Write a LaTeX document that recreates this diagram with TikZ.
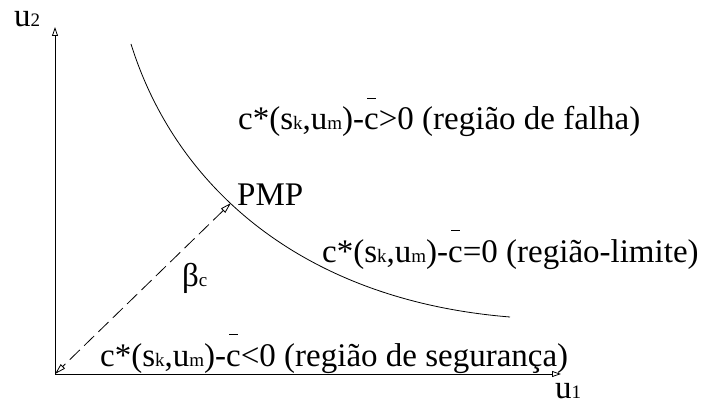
\documentclass[tikz,border=0pt]{standalone}
\usepackage{fontspec}
\setmainfont{Liberation Serif}
\usetikzlibrary{arrows.meta}
\newcommand\subs[1]{{\fontsize{19}{19}\selectfont #1}}
\newcommand\cbar{\makebox[0pt][l]{\hspace{0.09em}\raisebox{0.95em}{\rule{0.28em}{0.03em}}}c}
\tikzset{
  lbl/.style={inner sep=0pt, anchor=base west, font=\fontsize{33}{38}\selectfont},
  axis/.style={line width=0.8pt, -{Triangle[open, length=9pt, width=6pt]}},
  thin/.style={line width=0.8pt},
  beta/.style={line width=0.8pt, dash pattern=on 14pt off 6pt, {Triangle[open, length=11pt, width=6pt]}-{Triangle[open, length=11pt, width=6pt]}}
}
\begin{document}
\begin{tikzpicture}[x=1pt,y=-1pt]
\useasboundingbox (0,0) rectangle (704,401);
\coordinate (O) at (55,374);
\coordinate (Y) at (55,27);
\coordinate (X) at (561,374);
\coordinate (P) at (231,203);
\coordinate (C0) at (131,44);
\coordinate (C1) at (510,317);
\draw[axis] (O) -- (Y);
\draw[axis] (O) -- (X);
\draw[thin] (C0) .. controls (175,185) and (300,300) .. (C1);
\draw[beta] (P) -- (O);
\node[lbl] (u2) at (14,27) {u\subs{2}};
\node[lbl] (u1) at (555,398) {u\subs{1}};
\node[lbl] (pmp) at (237,205) {PMP};
\node[lbl] (bc) at (182,286) {β\subs{c}};
\node[lbl] (t1) at (238,130) {c*(s\subs{k},u\subs{m})-\cbar>0 (região de falha)};
\node[lbl] (t2) at (322,262) {c*(s\subs{k},u\subs{m})-\cbar=0 (região-limite)};
\node[lbl] (t3) at (100,366) {c*(s\subs{k},u\subs{m})-\cbar<0 (região de segurança)};
\end{tikzpicture}
\end{document}
